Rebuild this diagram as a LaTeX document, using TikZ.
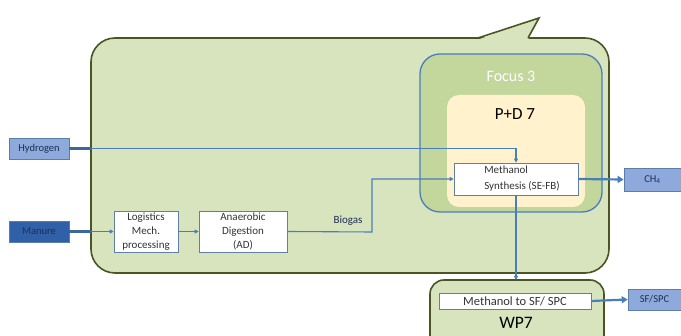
\documentclass[tikz,border=0pt]{standalone}
\usepackage{fontspec}
\setmainfont{Carlito}
\usetikzlibrary{arrows.meta}
\definecolor{bigfill}{HTML}{D7E4BD}
\definecolor{bigline}{HTML}{4B5524}
\definecolor{focfill}{HTML}{C3D69B}
\definecolor{bluel}{HTML}{4A7EBB}
\definecolor{yel}{HTML}{FFF2CC}
\definecolor{hyd}{HTML}{8EA9DB}
\definecolor{man}{HTML}{3060A8}
\definecolor{txt}{HTML}{333333}
\definecolor{navy}{HTML}{1F2F55}
\tikzset{
  whitebox/.style={draw=bluel!60!gray, line width=0.6pt, fill=white, text=txt, inner sep=1pt, align=center, font=\fontsize{11}{14}\selectfont},
  inbox/.style={draw=bluel!70!gray, line width=0.6pt, text=navy, inner sep=1pt, font=\fontsize{10.5}{12}\selectfont},
  flow/.style={draw=bluel, line width=1.1pt, -{Triangle[length=4pt,width=4pt]}},
  fatflow/.style={draw=bluel, line width=2.2pt, -{Triangle[length=6pt,width=7pt]}},
  stub/.style={draw=bluel!70!navy, line width=2.6pt},
}
\begin{document}
\begin{tikzpicture}[x=1pt,y=-1pt]
\useasboundingbox (0,0) rectangle (681,336);
\fill[white] (0,0) rectangle (681,336);
\begin{scope}
\clip (0,0) rectangle (681,336);
% big callout
\draw[fill=bigfill, draw=bigline, line width=1.6pt, rounded corners=24pt] (91,38) rectangle (609,273);
\fill[bigfill] (478,39.6) -- (539,18) -- (528,39.6) -- cycle;
\draw[bigline, line width=1.6pt, line join=miter] (478,38) -- (539,18) -- (528,38);
% focus box
\draw[fill=focfill, draw=bluel, line width=1.3pt, rounded corners=20pt] (420,54) rectangle (602,212);
\node[text=white, font=\fontsize{16}{18}\selectfont] (focus) at (511,76) {Focus 3};
% yellow P+D box
\fill[yel, rounded corners=12pt] (447,95) rectangle (585,207);
\node[text=black, font=\fontsize{17}{19}\selectfont] (pd) at (515,114) {P+D 7};
% WP7 box
\draw[fill=bigfill, draw=bigline, line width=1.6pt, rounded corners=14pt] (430,280) rectangle (604,350);
\node[text=black, font=\fontsize{17.5}{19}\selectfont] (wp) at (516,323) {WP7};
% nodes
\node[inbox, fill=hyd, minimum width=60pt, minimum height=21pt] (hyd) at (39,148.5) {Hydrogen};
\node[inbox, fill=man, minimum width=60pt, minimum height=21pt] (man) at (39,231.5) {Manure};
\node[whitebox, minimum width=64pt, minimum height=41pt] (log) at (146,231.5) {Logistics\\Mech.\\processing};
\node[whitebox, minimum width=88pt, minimum height=41pt] (ad) at (243,231.5) {Anaerobic\\Digestion\\(AD)};
\node[whitebox, minimum width=124pt, minimum height=32pt, align=left, font=\fontsize{11}{16}\selectfont] (ms) at (516,179) {\hspace*{14pt}Methanol\\\hspace*{14pt}Synthesis (SE-FB)\hspace*{2pt}};
\node[inbox, fill=hyd, minimum width=57pt, minimum height=23pt] (ch4) at (652.5,179.5) {CH\textsubscript{4}};
\node[whitebox, minimum width=152pt, minimum height=16pt, font=\fontsize{12.5}{14}\selectfont] (mts) at (515,301) {Methanol to SF/ SPC};
\node[inbox, fill=hyd, minimum width=53pt, minimum height=21pt] (sf) at (654.5,299.5) {SF/SPC};
\node[text=navy, font=\fontsize{11}{13}\selectfont] (bio) at (348,221) {Biogas};
% connectors
\draw[flow] (hyd.east) -| (ms.north);
\draw[flow] (man.east) -- (log.west);
\draw[stub] (hyd.east) -- ++(22,0);
\draw[stub] (man.east) -- ++(22,0);
\draw[flow] (log.east) -- (ad.west);
\draw[flow] (ad.east) -- (372,232) |- (ms.west);
\draw[fatflow] (ms.east) -- (ch4.west);
\draw[flow] (ms.south) -- (516,280);
\draw[fatflow] (mts.east) -- (sf.west);
\end{scope}
\end{tikzpicture}
\end{document}
